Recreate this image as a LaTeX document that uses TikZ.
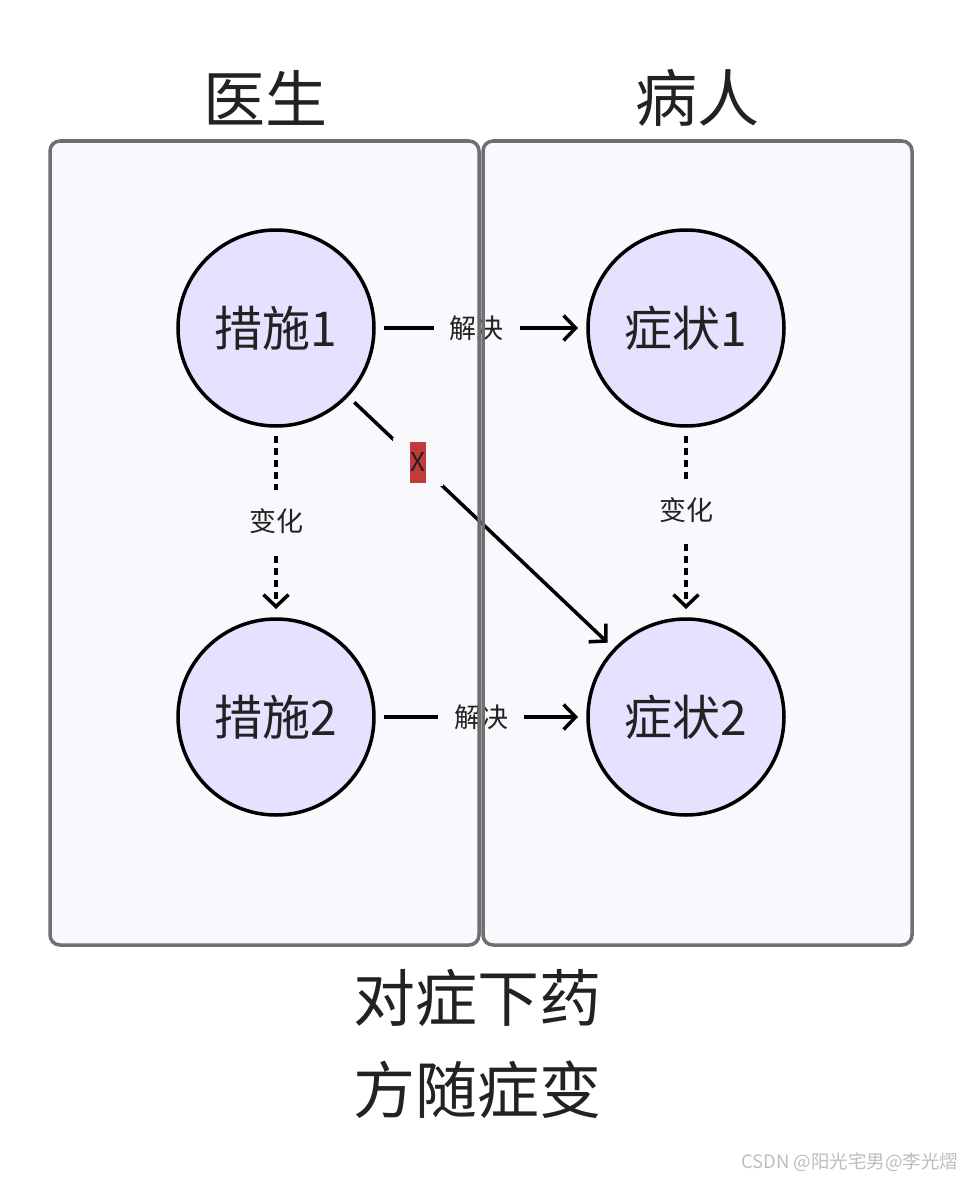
\documentclass[tikz,border=0pt]{standalone}
\usepackage{fontspec}
\setmainfont{Noto Sans CJK SC}
\usetikzlibrary{arrows.meta}
\definecolor{boxfill}{HTML}{F8F9FC}
\definecolor{boxline}{HTML}{6F6F6F}
\definecolor{circfill}{HTML}{E8E0FF}
\definecolor{txt}{HTML}{222222}
\definecolor{xred}{HTML}{C43A3A}
\definecolor{wm}{HTML}{BDBDBD}
\begin{document}
\begin{tikzpicture}[x=1pt,y=-1pt,
  boxbg/.style={fill=boxfill, draw=none, minimum width=429pt, minimum height=804pt, inner sep=0pt, outer sep=0pt},
  boxborder/.style={draw=boxline, line width=3.5pt, rounded corners=10pt},
  title/.style={font=\fontsize{62}{74}\selectfont, text=txt, inner sep=0pt},
  circ/.style={circle, draw=black, line width=3.5pt, fill=circfill, minimum size=196pt, inner sep=0pt, outer sep=10pt, font=\fontsize{48}{57}\selectfont, text=txt},
  conn/.style={draw=black, line width=3.5pt, -{Straight Barb[length=12pt,width=25pt]}},
  dotconn/.style={conn, dash pattern=on 7pt off 5pt},
  elabel/.style={fill=boxfill, font=\fontsize{27}{32}\selectfont, text=txt, inner xsep=16pt, inner ysep=18pt},
  xbgstyle/.style={fill=boxfill, minimum width=50pt, minimum height=48pt, inner sep=0pt},
  xlabel/.style={fill=xred, minimum width=16pt, minimum height=41pt, inner sep=0pt, font=\fontsize{26}{30}\selectfont, text=txt},
]
\fill[white] (0,0) rectangle (964,1180);
\useasboundingbox (0,0) rectangle (964,1180);

% cluster backgrounds
\node[boxbg] (lb) at (264.5,543) {};
\node[boxbg] (rb) at (697.5,543) {};

% titles
\node[title] (t1) at (265,98) {医生};
\node[title] (t2) at (697,98) {病人};

% circles
\node[circ] (m1) at (276,328) {措施1};
\node[circ] (m2) at (276,717) {措施2};
\node[circ] (s1) at (686,328) {症状1};
\node[circ] (s2) at (686,717) {症状2};

% connectors
\draw[conn] (m1) -- node[elabel, pos=0.477] (l1) {解决} (s1);
\draw[conn] (m2) -- node[elabel, pos=0.5] (l2) {解决} (s2);
\draw[dotconn] (m1) -- node[elabel, pos=0.49] (l3) {变化} (m2);
\draw[dotconn] (s1) -- node[elabel, pos=0.43] (l4) {变化} (s2);
\draw[conn] (m1) -- node[xbgstyle, pos=0.25] (xbg) {} (s2);
\node[xlabel] (xl) at (xbg) {X};

% cluster borders
\draw[boxborder] (lb.north west) rectangle (lb.south east);
\draw[boxborder] (rb.north west) rectangle (rb.south east);

% bottom text
\node[title] (b1) at (477,998) {对症下药};
\node[title] (b2) at (477,1090) {方随症变};

% watermark
\node[anchor=west, inner sep=0pt, text=wm, font=\fontsize{18.5}{22}\selectfont] (wmk) at (741,1162) {CSDN @阳光宅男@李光熠};
\end{tikzpicture}
\end{document}
